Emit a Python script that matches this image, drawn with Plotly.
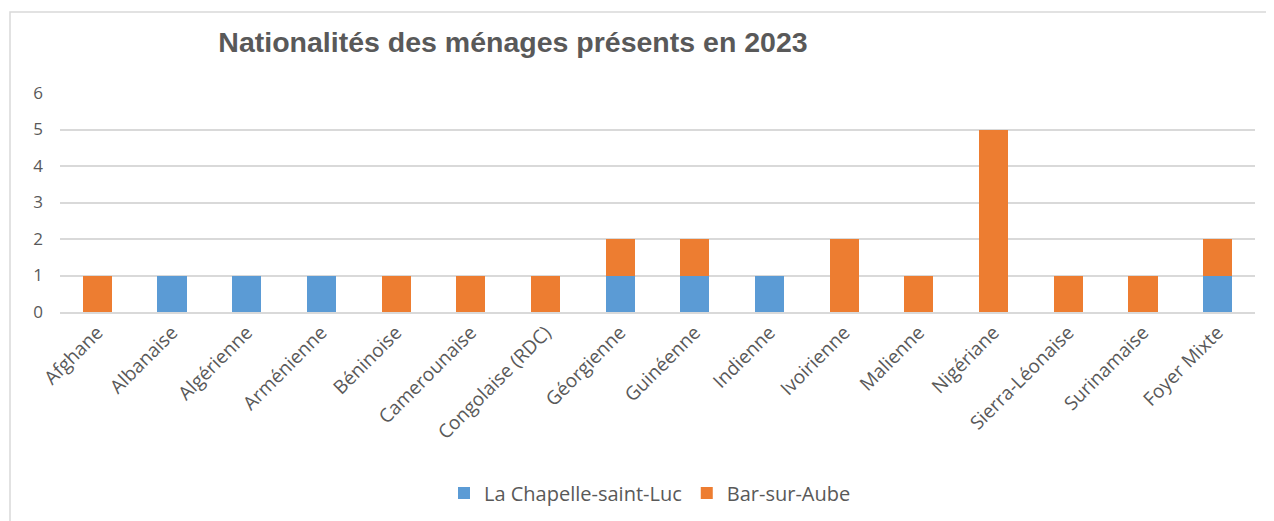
import plotly.graph_objects as go

categories = ["Afghane", "Albanaise", "Algérienne", "Arménienne", "Béninoise",
              "Camerounaise", "Congolaise (RDC)", "Géorgienne", "Guinéenne",
              "Indienne", "Ivoirienne", "Malienne", "Nigériane",
              "Sierra-Léonaise", "Surinamaise", "Foyer Mixte"]
chapelle = [0, 1, 1, 1, 0, 0, 0, 1, 1, 1, 0, 0, 0, 0, 0, 1]
bar_sur_aube = [1, 0, 0, 0, 1, 1, 1, 1, 1, 0, 2, 1, 5, 1, 1, 1]
y_ticks = [0, 1, 2, 3, 4, 5, 6]

# page body has an 8px offset; positions below are in figure pixels
OFF = 8
W, H = 1274, 521
L, T = 60 - OFF, 93 - OFF
R = W - (1255 - OFF)
B = H - (312 - OFF)
pw, ph = W - L - R, H - T - B

def px_x(x):  # screen x -> paper
    return (x - OFF - L) / pw

def px_y(y):  # screen y -> paper
    return (ph - (y - OFF - T)) / ph

fig = go.Figure()
fig.add_trace(go.Bar(x=categories, y=chapelle, name="La Chapelle-saint-Luc",
                     marker=dict(color="#5B9BD5", line=dict(width=0))))
fig.add_trace(go.Bar(x=categories, y=bar_sur_aube, name="Bar-sur-Aube",
                     marker=dict(color="#ED7D31", line=dict(width=0))))

fig.update_layout(
    width=W, height=H, barmode="stack", bargap=0.61,
    margin=dict(l=L, r=R, t=T, b=B, autoexpand=False),
    paper_bgcolor="white", plot_bgcolor="white",
    font=dict(family="Open Sans, sans-serif", color="#595959", size=17),
    title=dict(text="<b>Nationalités des ménages présents en 2023</b>",
               font=dict(family="Liberation Sans, Arial, sans-serif", size=28.5, color="#595959"),
               xref="container", yref="container", x=(513 - OFF) / W, y=1 - (42 - OFF) / H,
               xanchor="center", yanchor="middle"),
    legend=dict(orientation="h", x=px_x(650), y=px_y(493),
                xanchor="center", yanchor="middle",
                font=dict(size=20, color="#595959"), itemwidth=30,
                traceorder="normal"),
    shapes=[dict(type="rect", xref="paper", yref="paper",
                 x0=px_x(10), x1=px_x(1300),
                 y0=px_y(560), y1=px_y(12),
                 line=dict(color="#D9D9D9", width=1.5), fillcolor="rgba(0,0,0,0)",
                 layer="below")],
)
fig.update_xaxes(tickangle=-45, showgrid=False, showline=True, linecolor="#D9D9D9",
                 linewidth=2, ticks="", automargin=False,
                 tickfont=dict(size=19, color="#595959"))
fig.update_yaxes(range=[0, 6], tickvals=y_ticks, showgrid=True, gridcolor="#D9D9D9",
                 gridwidth=2, zeroline=False, showline=False, ticks="", automargin=False,
                 tickfont=dict(size=17, color="#595959"), ticklabelstandoff=16)

fig.write_html("out.html")
